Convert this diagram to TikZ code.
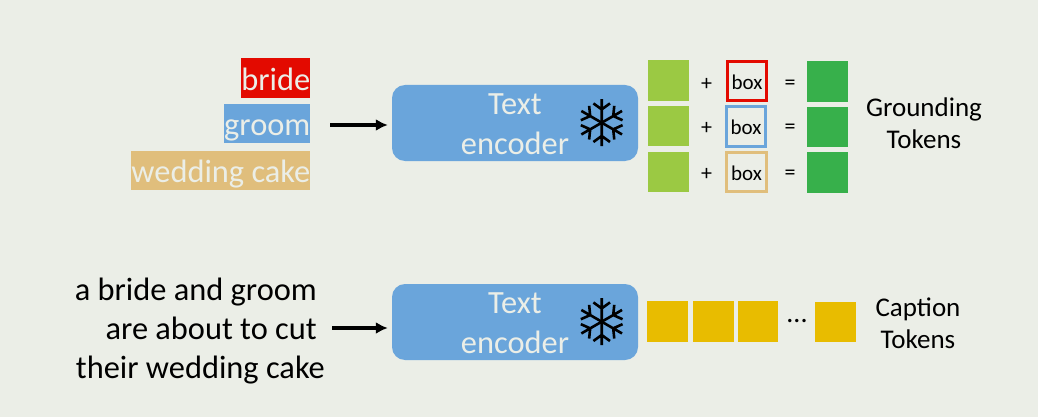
\documentclass[tikz,border=0pt]{standalone}
\usepackage{fontspec}
\setmainfont{Carlito}
\usetikzlibrary{arrows.meta}

\definecolor{bgcol}{HTML}{EBEEE7}
\definecolor{bluecol}{HTML}{6AA5DB}
\definecolor{redcol}{HTML}{E30A00}
\definecolor{tancol}{HTML}{E0BE7C}
\definecolor{limecol}{HTML}{9BC943}
\definecolor{greencol}{HTML}{37B04B}
\definecolor{yellowcol}{HTML}{E8BC00}

\begin{document}
\begin{tikzpicture}[x=1pt, y=-1pt,
  tag/.style={anchor=east, inner ysep=0pt, inner xsep=0pt, font=\fontsize{32.4}{32.4}\selectfont, text=bgcol, text height=32pt, text depth=7.5pt},
  encoder/.style={rectangle, rounded corners=13pt, fill=bluecol, minimum width=246pt, minimum height=76pt, inner sep=0pt},
  encodertext/.style={anchor=base, font=\fontsize{32.4}{32.4}\selectfont, text=bgcol, inner sep=0pt},
  token/.style={rectangle, minimum size=40.5pt, inner sep=0pt},
  boxtoken/.style={rectangle, draw, line width=3pt, fill=bgcol, minimum size=39.5pt, inner sep=0pt, font=\fontsize{21}{21}\selectfont, text height=28pt, text depth=11pt},
  sign/.style={font=\fontsize{22}{22}\selectfont, inner sep=0pt},
  title/.style={anchor=base, font=\fontsize{27}{27}\selectfont, inner sep=0pt},
  sentence/.style={anchor=base east, font=\fontsize{32.4}{32.4}\selectfont, inner sep=0pt},
  flow/.style={-{Latex[length=12pt,width=12pt]}, line width=3.4pt, shorten >=4pt},
  snowflake/.pic={
    \foreach \angle in {30,90,...,330} {
      \draw [line width=2.6pt, rotate=\angle] (0,0) -- (23.5,0)
        (13.3,0) -- (19.3,8.3) (13.3,0) -- (19.3,-8.3);
    }
  }]
\useasboundingbox [fill=bgcol] (0,0) rectangle (1038,417);

% labels
\node (bride) at (310.5,78) [tag, fill=redcol] {bride};
\node (groom) at (310.5,123.5) [tag, fill=bluecol] {groom};
\node (cake) at (310.5,170.5) [tag, fill=tancol] {wedding cake};
\node (s1) at (317,300.7) [sentence] {a bride and groom};
\node (s2) at (317,339.7) [sentence] {are about to cut};
\node (s3) at (325,378.7) [sentence] {their wedding cake};

% encoders
\node (enc1) at (515,123) [encoder] {};
\node (enc2) at (515,322) [encoder] {};
\node (t1) at (515,114.5) [encodertext] {Text};
\node (e1) at (515,154.2) [encodertext] {encoder};
\node (t2) at (515,313.5) [encodertext] {Text};
\node (e2) at (515,353.2) [encodertext] {encoder};
\pic at (601.7,122.7) {snowflake};
\pic at (601.7,321.7) {snowflake};

% grounding tokens
\node (g1) at (668.5,80.5) [token, fill=limecol] {};
\node (g2) at (668.5,126) [token, fill=limecol] {};
\node (g3) at (668.5,172) [token, fill=limecol] {};
\node (p1) at (706.5,84) [sign] {+};
\node (p2) at (706.5,128) [sign] {+};
\node (p3) at (706.5,174) [sign] {+};
\node (b1) at (747,81) [boxtoken, draw=redcol] {box};
\node (b2) at (746,126.5) [boxtoken, draw=bluecol] {box};
\node (b3) at (746.5,172) [boxtoken, draw=tancol] {box};
\node (q1) at (790,84.5) [sign] {=};
\node (q2) at (790,128.5) [sign] {=};
\node (q3) at (790,174.5) [sign] {=};
\node (r1) at (827.5,81.5) [token, fill=greencol] {};
\node (r2) at (827.5,127) [token, fill=greencol] {};
\node (r3) at (827.5,172.5) [token, fill=greencol] {};
\node (gt1) at (924,117) [title] {Grounding};
\node (gt2) at (924,148.5) [title] {Tokens};

% caption tokens
\node (c1) at (667.5,321.5) [token, fill=yellowcol] {};
\node (c2) at (713.5,321.5) [token, fill=yellowcol] {};
\node (c3) at (758,321.5) [token, fill=yellowcol] {};
\node (dots) at (797,321.5) [sign, font=\fontsize{28}{28}\selectfont] {...};
\node (c4) at (835.5,322) [token, fill=yellowcol] {};
\node (ct1) at (918,316) [title] {Caption};
\node (ct2) at (918,348.7) [title] {Tokens};

% arrows
\coordinate (from1) at (330,125);
\coordinate (from2) at (332,328);
\draw [flow] (from1) -- (from1 -| enc1.west);
\draw [flow] (from2) -- (from2 -| enc2.west);
\end{tikzpicture}
\end{document}
